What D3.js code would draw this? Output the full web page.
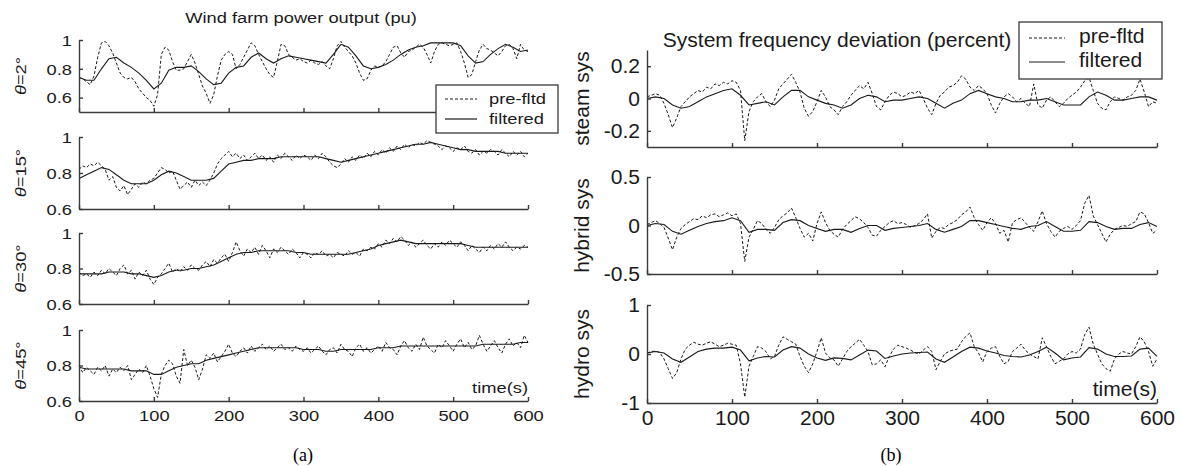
<!DOCTYPE html>
<html>
<head>
<meta charset="utf-8">
<script src="https://cdn.jsdelivr.net/npm/d3@7"></script>
<style>
  body { margin: 0; background: #fff; }
  svg { display: block; font-family: "Liberation Sans", Arial, sans-serif; }
</style>
</head>
<body>
<svg id="chart" width="1181" height="466"></svg>
<script>
// sample times (s): pre-filtered every 5 s, filtered every 10 s
const tPre = d3.range(0, 601, 5);
const tFilt = d3.range(0, 601, 10);
const xTicks = [0, 100, 200, 300, 400, 500, 600];

// (a) wind farm power output (pu)
const angles = ["2°", "15°", "30°", "45°"];
const powerTicks = [0.6, 0.8, 1];

const pre2 = [0.74,0.73,0.71,0.69,0.75,0.88,0.98,0.99,0.96,0.91,0.84,0.77,0.74,0.73,0.74,0.71,0.66,0.63,0.60,0.58,
  0.54,0.62,0.90,0.95,0.93,0.85,0.79,0.79,0.80,0.85,0.90,0.84,0.76,0.68,0.63,0.56,0.62,0.75,0.86,0.90,
  0.92,0.90,0.80,0.83,0.88,0.93,0.98,0.96,0.90,0.85,0.80,0.76,0.74,0.85,0.97,0.96,0.90,0.88,0.86,0.87,
  0.85,0.84,0.86,0.84,0.83,0.85,0.82,0.80,0.87,0.96,0.99,0.95,0.92,0.89,0.84,0.77,0.72,0.73,0.79,0.82,
  0.81,0.82,0.85,0.90,0.95,0.96,0.91,0.88,0.92,0.93,0.95,0.97,0.95,0.90,0.84,0.92,0.97,0.98,0.97,0.96,
  0.97,0.98,0.92,0.84,0.74,0.76,0.85,0.93,0.97,0.94,0.93,0.91,0.89,0.92,0.96,0.97,0.94,0.87,0.97,0.93,0.92];
const filt2 = [0.74,0.72,0.72,0.80,0.87,0.88,0.84,0.81,0.77,0.72,
  0.66,0.70,0.79,0.81,0.81,0.82,0.78,0.73,0.69,0.70,
  0.77,0.81,0.82,0.88,0.91,0.87,0.84,0.87,0.89,0.88,
  0.87,0.86,0.85,0.84,0.90,0.97,0.95,0.89,0.82,0.80,
  0.81,0.83,0.86,0.90,0.93,0.95,0.96,0.98,0.98,0.98,
  0.98,0.96,0.89,0.84,0.85,0.90,0.94,0.97,0.95,0.92,0.93];

const pre15 = [0.82,0.84,0.83,0.85,0.84,0.86,0.84,0.82,0.76,0.78,0.72,0.70,0.73,0.68,0.71,0.74,0.72,0.75,0.74,0.76,
  0.77,0.80,0.83,0.82,0.80,0.81,0.76,0.71,0.73,0.75,0.72,0.76,0.73,0.75,0.73,0.76,0.80,0.85,0.88,0.90,
  0.92,0.89,0.91,0.88,0.90,0.87,0.89,0.91,0.88,0.90,0.87,0.89,0.86,0.90,0.88,0.91,0.89,0.87,0.90,0.88,
  0.90,0.89,0.87,0.90,0.88,0.91,0.89,0.86,0.84,0.83,0.85,0.88,0.86,0.89,0.87,0.90,0.88,0.91,0.89,0.92,
  0.90,0.93,0.91,0.94,0.92,0.95,0.93,0.96,0.94,0.96,0.95,0.97,0.96,0.98,0.97,0.96,0.95,0.93,0.95,0.94,
  0.92,0.94,0.93,0.95,0.92,0.91,0.93,0.90,0.92,0.91,0.93,0.92,0.90,0.93,0.91,0.89,0.92,0.90,0.92,0.89,0.91];
const filt15 = [0.77,0.79,0.81,0.83,0.82,0.79,0.76,0.74,0.74,0.74,
  0.76,0.79,0.81,0.80,0.78,0.76,0.76,0.76,0.77,0.81,
  0.85,0.86,0.87,0.87,0.88,0.88,0.88,0.89,0.89,0.89,
  0.89,0.89,0.89,0.88,0.87,0.86,0.87,0.88,0.89,0.90,
  0.91,0.92,0.93,0.94,0.95,0.96,0.96,0.97,0.96,0.95,
  0.94,0.93,0.93,0.92,0.92,0.92,0.92,0.91,0.91,0.91,0.91];

const pre30 = [0.78,0.76,0.77,0.75,0.78,0.76,0.79,0.77,0.80,0.78,0.76,0.80,0.82,0.77,0.79,0.74,0.78,0.76,0.79,0.74,
  0.71,0.75,0.77,0.80,0.83,0.78,0.80,0.78,0.81,0.79,0.82,0.80,0.79,0.82,0.84,0.81,0.85,0.83,0.86,0.88,
  0.84,0.89,0.95,0.90,0.87,0.91,0.89,0.92,0.88,0.93,0.90,0.86,0.91,0.89,0.92,0.90,0.88,0.91,0.89,0.86,
  0.89,0.88,0.86,0.89,0.88,0.90,0.87,0.88,0.86,0.89,0.88,0.87,0.90,0.88,0.89,0.87,0.91,0.90,0.92,0.91,
  0.94,0.92,0.96,0.94,0.97,0.95,0.98,0.96,0.93,0.95,0.92,0.94,0.96,0.93,0.91,0.94,0.92,0.95,0.93,0.96,
  0.94,0.92,0.95,0.93,0.90,0.93,0.91,0.89,0.92,0.90,0.93,0.91,0.94,0.92,0.95,0.92,0.90,0.92,0.91,0.93,0.92];
const filt30 = [0.77,0.77,0.77,0.77,0.78,0.78,0.78,0.77,0.77,0.76,
  0.75,0.76,0.78,0.79,0.79,0.80,0.80,0.81,0.82,0.84,
  0.86,0.88,0.89,0.89,0.90,0.90,0.90,0.90,0.90,0.89,
  0.89,0.88,0.88,0.88,0.88,0.88,0.88,0.89,0.90,0.91,
  0.93,0.94,0.95,0.96,0.95,0.94,0.94,0.94,0.94,0.94,
  0.94,0.94,0.93,0.92,0.92,0.92,0.92,0.92,0.92,0.92,0.92];

const pre45 = [0.80,0.76,0.79,0.77,0.75,0.79,0.77,0.80,0.74,0.78,0.76,0.79,0.77,0.80,0.72,0.75,0.78,0.76,0.80,0.74,
  0.67,0.62,0.75,0.80,0.83,0.81,0.74,0.70,0.89,0.80,0.83,0.79,0.72,0.78,0.86,0.84,0.87,0.82,0.85,0.88,
  0.92,0.87,0.85,0.88,0.90,0.87,0.91,0.88,0.90,0.92,0.89,0.91,0.88,0.90,0.92,0.89,0.90,0.88,0.91,0.89,
  0.88,0.90,0.87,0.89,0.91,0.88,0.86,0.89,0.90,0.87,0.92,0.89,0.88,0.85,0.90,0.92,0.88,0.90,0.87,0.89,
  0.91,0.88,0.93,0.90,0.89,0.86,0.91,0.94,0.90,0.88,0.92,0.89,0.96,0.91,0.89,0.87,0.92,0.90,0.94,0.91,
  0.88,0.92,0.95,0.90,0.93,0.89,0.91,0.97,0.92,0.88,0.91,0.94,0.90,0.87,0.92,0.95,0.91,0.93,0.90,0.97,0.93];
const filt45 = [0.79,0.78,0.78,0.78,0.78,0.78,0.78,0.77,0.77,0.77,
  0.75,0.75,0.77,0.79,0.80,0.81,0.81,0.83,0.84,0.85,
  0.86,0.87,0.88,0.89,0.90,0.90,0.90,0.90,0.90,0.90,
  0.89,0.89,0.89,0.88,0.88,0.89,0.89,0.89,0.89,0.89,
  0.90,0.90,0.90,0.91,0.91,0.91,0.91,0.91,0.91,0.91,
  0.91,0.91,0.91,0.91,0.92,0.92,0.92,0.92,0.92,0.93,0.93];

// (b) system frequency deviation (percent)
const systems = ["steam sys", "hybrid sys", "hydro sys"];
const steamTicks = [-0.2, 0, 0.2];
const hybridTicks = [-0.5, 0, 0.5];
const hydroTicks = [-1, 0, 1];

const preSteam = [0.01,0.02,0.03,0.02,-0.03,-0.10,-0.18,-0.12,-0.05,-0.02,0.01,0.03,0.05,0.04,0.07,0.06,0.09,0.08,0.10,0.09,
  0.11,0.10,0.05,-0.26,-0.08,-0.02,0.01,0.03,-0.02,-0.05,-0.01,0.06,0.09,0.12,0.15,0.10,0.04,-0.06,-0.11,-0.08,
  -0.02,0.05,0.01,-0.05,-0.07,-0.10,-0.05,-0.02,0.02,0.05,0.08,0.06,0.10,0.03,-0.05,-0.07,-0.02,0.02,0.04,0.03,
  0.01,0.02,0.04,0.03,0.05,0.00,-0.06,-0.10,-0.03,0.02,0.04,0.07,0.08,0.10,0.14,0.12,0.07,0.05,0.08,0.06,
  0.03,-0.04,-0.09,-0.03,0.01,0.03,0.01,-0.02,0.00,-0.03,-0.05,0.09,-0.04,-0.06,-0.01,0.01,-0.02,-0.05,-0.03,0.00,
  0.02,0.04,0.07,0.11,0.13,0.05,-0.03,-0.06,-0.07,-0.02,0.01,0.00,-0.01,0.01,0.02,0.05,0.12,0.04,-0.05,-0.02,-0.03];
const filtSteam = [0.00,0.01,0.00,-0.04,-0.06,-0.05,-0.02,0.01,0.03,0.05,
  0.06,0.02,-0.04,-0.03,-0.02,-0.04,0.01,0.05,0.05,0.01,
  -0.01,-0.03,-0.04,-0.06,-0.04,0.00,0.02,0.01,-0.02,-0.01,
  -0.01,0.00,0.01,0.00,-0.03,-0.06,-0.03,-0.01,0.03,0.05,
  0.03,0.01,0.00,-0.02,-0.02,-0.01,-0.01,0.00,-0.02,-0.04,
  -0.04,-0.04,0.01,0.04,0.02,-0.01,-0.01,0.00,0.01,0.01,-0.01];

const preHybrid = [0.01,0.03,0.05,0.02,-0.02,-0.13,-0.25,-0.12,-0.03,0.01,0.04,0.07,0.06,0.10,0.08,0.11,0.12,0.09,0.11,0.13,
  0.10,0.12,0.02,-0.37,-0.12,-0.04,0.05,0.02,-0.04,-0.08,-0.02,0.06,0.10,0.13,0.18,0.08,-0.03,-0.12,-0.08,-0.16,
  0.02,0.14,0.03,-0.05,-0.09,-0.12,-0.04,0.01,0.05,0.09,0.07,0.03,-0.02,-0.10,-0.11,-0.05,-0.01,0.03,0.05,0.02,
  0.03,0.01,-0.02,0.00,0.02,0.06,0.12,-0.13,-0.06,-0.02,-0.03,0.01,0.03,0.06,0.11,0.14,0.19,0.08,0.01,-0.05,
  0.03,0.08,0.02,-0.08,-0.05,-0.17,0.03,0.06,0.08,0.03,-0.02,-0.06,0.04,0.15,0.02,-0.06,-0.12,-0.06,-0.03,-0.01,
  -0.04,0.00,0.05,0.23,0.31,0.10,0.01,-0.08,-0.17,-0.09,-0.04,-0.02,0.00,-0.01,0.02,0.04,0.14,0.12,0.03,-0.08,-0.05];
const filtHybrid = [0.00,0.02,0.01,-0.06,-0.09,-0.05,-0.01,0.02,0.04,0.05,
  0.08,0.05,-0.07,-0.04,-0.04,-0.05,0.03,0.06,0.05,0.00,
  -0.03,-0.06,-0.04,-0.04,-0.07,-0.03,0.00,0.00,-0.05,-0.03,
  -0.02,-0.01,0.00,0.02,-0.04,-0.07,-0.04,-0.01,0.05,0.05,
  0.03,0.01,-0.01,-0.03,-0.04,-0.01,0.00,0.04,-0.01,-0.06,
  -0.06,-0.05,0.04,0.03,-0.01,-0.04,-0.03,-0.03,0.01,0.03,-0.01];

const preHydro = [0.02,0.05,0.06,0.03,-0.10,-0.30,-0.50,-0.38,-0.10,0.10,0.18,0.24,0.20,0.18,0.22,0.25,0.20,0.15,0.18,0.22,
  0.20,0.18,-0.20,-0.88,-0.25,-0.05,0.15,0.12,0.05,-0.10,-0.05,0.18,0.35,0.30,0.25,0.20,-0.05,-0.25,-0.38,-0.20,
  0.05,0.33,0.02,-0.08,-0.12,-0.25,-0.10,0.05,0.15,0.22,0.30,0.18,0.05,-0.22,-0.20,-0.12,-0.26,-0.05,0.10,0.18,
  0.15,0.12,0.08,0.03,0.00,0.08,0.15,0.05,-0.32,-0.15,0.00,0.05,0.08,0.10,0.25,0.36,0.43,0.15,0.02,-0.16,
  0.05,0.12,0.15,-0.05,-0.20,-0.15,0.05,0.12,0.20,0.08,0.00,-0.05,-0.10,0.33,0.15,-0.05,-0.20,-0.15,-0.10,0.00,
  0.05,0.02,0.10,0.40,0.55,0.20,0.00,-0.20,-0.30,-0.35,-0.10,0.00,0.05,0.02,0.00,0.15,0.35,0.25,0.05,-0.25,-0.10];
const filtHydro = [0.02,0.05,0.02,-0.10,-0.17,-0.06,0.05,0.10,0.12,0.12,
  0.14,0.08,-0.14,-0.08,-0.05,-0.06,0.08,0.15,0.12,0.00,
  -0.08,-0.13,-0.08,-0.09,-0.12,-0.02,0.08,0.06,-0.09,-0.04,
  0.00,0.02,0.03,0.04,-0.10,-0.17,-0.06,0.05,0.14,0.12,
  0.06,0.02,-0.03,-0.05,-0.06,-0.02,0.05,0.14,0.02,-0.12,
  -0.08,-0.06,0.13,0.10,0.00,-0.05,-0.05,-0.04,0.10,0.12,-0.05];

const svg = d3.select("#chart");
const ink = "#1a1a1a";
const axisInk = "#3a3a3a";

// text is horizontally stretched in the scanned figure, so each label gets a local scaleX
function label(x, y, s, size, sx, anchor, rot) {
  return svg.append("text")
    .attr("transform", `translate(${x},${y})` + (rot ? ` rotate(${rot})` : "") + ` scale(${sx},1)`)
    .attr("text-anchor", anchor || "start")
    .attr("font-size", size)
    .attr("fill", ink)
    .text(s);
}

function drawPanel(cfg) {
  const x = d3.scaleLinear().domain([0, 600]).range([cfg.x0, cfg.x1]);

  cfg.plots.forEach((p, i) => {
    const y = d3.scaleLinear().domain(p.domain).range([p.bottom, p.top]);
    const line = d3.line().x(d => x(d[0])).y(d => y(d[1]));
    const last = i === cfg.plots.length - 1;

    svg.append("path")
      .datum(p.pre.map((v, j) => [tPre[j], v]))
      .attr("d", line)
      .attr("fill", "none")
      .attr("stroke", ink)
      .attr("stroke-width", 1)
      .attr("stroke-dasharray", "3,2");

    svg.append("path")
      .datum(p.filt.map((v, j) => [tFilt[j], v]))
      .attr("d", line)
      .attr("fill", "none")
      .attr("stroke", ink)
      .attr("stroke-width", 1.1);

    // y axis, ticks pointing inward
    const ya = svg.append("g")
      .attr("transform", `translate(${cfg.x0},0)`)
      .call(d3.axisLeft(y).tickValues(p.ticks).tickSizeInner(-4).tickSizeOuter(0).tickFormat(d => String(d)));
    ya.selectAll("text")
      .attr("x", null).attr("dy", "0.35em")
      .attr("transform", `translate(-7,0) scale(${cfg.sx},1)`)
      .attr("font-size", cfg.fs)
      .attr("font-family", "Liberation Sans, Arial, sans-serif")
      .attr("fill", ink);

    // x axis
    const xa = svg.append("g")
      .attr("transform", `translate(0,${p.bottom})`)
      .call(d3.axisBottom(x).tickValues(xTicks).tickSizeInner(-4).tickSizeOuter(0)
        .tickFormat(last ? d => String(d) : () => ""));
    xa.selectAll("text")
      .attr("y", null).attr("dy", null)
      .attr("transform", `translate(0,${cfg.xLabOff}) scale(${cfg.sx},1)`)
      .attr("font-size", cfg.fs)
      .attr("font-family", "Liberation Sans, Arial, sans-serif")
      .attr("fill", ink);

    [ya, xa].forEach(a => {
      a.select(".domain").attr("stroke", axisInk).attr("stroke-width", 1.4);
      a.selectAll(".tick line").attr("stroke", axisInk).attr("stroke-width", 1.4);
    });

    // rotated y label
    const yl = label(cfg.yLabX, (p.top + p.bottom) / 2, "", cfg.yfs, cfg.sx, "middle", -90);
    if (p.theta) {
      yl.append("tspan").attr("font-style", "italic").text("θ");
      yl.append("tspan").text("=" + p.label);
    } else {
      yl.text(p.label);
    }
  });

  // legend
  const L = cfg.legend;
  svg.append("rect")
    .attr("x", L.x).attr("y", L.y).attr("width", L.w).attr("height", L.h)
    .attr("fill", "#fff").attr("stroke", axisInk).attr("stroke-width", 1.3);
  svg.append("line")
    .attr("x1", L.lx0).attr("x2", L.lx1).attr("y1", L.y1).attr("y2", L.y1)
    .attr("stroke", ink).attr("stroke-dasharray", "3,2");
  svg.append("line")
    .attr("x1", L.lx0).attr("x2", L.lx1).attr("y1", L.y2).attr("y2", L.y2)
    .attr("stroke", ink).attr("stroke-width", 1.2);
  label(L.tx, L.b1, "pre-fltd", cfg.fs, cfg.sx);
  label(L.tx, L.b2, "filtered", cfg.fs, cfg.sx);

  label(cfg.titleX, cfg.titleY, cfg.title, cfg.fs, cfg.sx, "middle");
  label(cfg.x1, cfg.timeY, "time(s)", cfg.fs, cfg.sx, "end");
  svg.append("text")
    .attr("x", cfg.tagX).attr("y", 461)
    .attr("text-anchor", "middle")
    .attr("font-family", "Liberation Serif, Times New Roman, serif")
    .attr("font-size", 18)
    .attr("fill", "#000")
    .text(cfg.tag);
}

drawPanel({
  x0: 79, x1: 528, sx: 1.22, fs: 15, yfs: 15, yLabX: 26, xLabOff: 20,
  title: "Wind farm power output (pu)", titleX: 301, titleY: 23, timeY: 393,
  tag: "(a)", tagX: 303,
  legend: { x: 436, y: 85, w: 122, h: 48, lx0: 445, lx1: 477, y1: 99, y2: 119, tx: 489, b1: 104, b2: 124 },
  plots: [
    { label: angles[0], theta: true, pre: pre2, filt: filt2, ticks: powerTicks, domain: [0.5, 1], top: 40, bottom: 112 },
    { label: angles[1], theta: true, pre: pre15, filt: filt15, ticks: powerTicks, domain: [0.6, 1], top: 137, bottom: 209 },
    { label: angles[2], theta: true, pre: pre30, filt: filt30, ticks: powerTicks, domain: [0.6, 1], top: 233, bottom: 304 },
    { label: angles[3], theta: true, pre: pre45, filt: filt45, ticks: powerTicks, domain: [0.6, 1], top: 330, bottom: 401 }
  ]
});

drawPanel({
  x0: 647, x1: 1157, sx: 1.08, fs: 19.5, yfs: 19.5, yLabX: 589, xLabOff: 22,
  title: "System frequency deviation (percent)", titleX: 837, titleY: 47, timeY: 396,
  tag: "(b)", tagX: 891,
  legend: { x: 1019, y: 22, w: 143, h: 57, lx0: 1029, lx1: 1065, y1: 38, y2: 62, tx: 1079, b1: 43, b2: 67 },
  plots: [
    { label: systems[0], pre: preSteam, filt: filtSteam, ticks: steamTicks, domain: [-0.3, 0.3], top: 50, bottom: 147 },
    { label: systems[1], pre: preHybrid, filt: filtHybrid, ticks: hybridTicks, domain: [-0.5, 0.5], top: 177, bottom: 274 },
    { label: systems[2], pre: preHydro, filt: filtHydro, ticks: hydroTicks, domain: [-1, 1], top: 305, bottom: 403 }
  ]
});
</script>
</body>
</html>
